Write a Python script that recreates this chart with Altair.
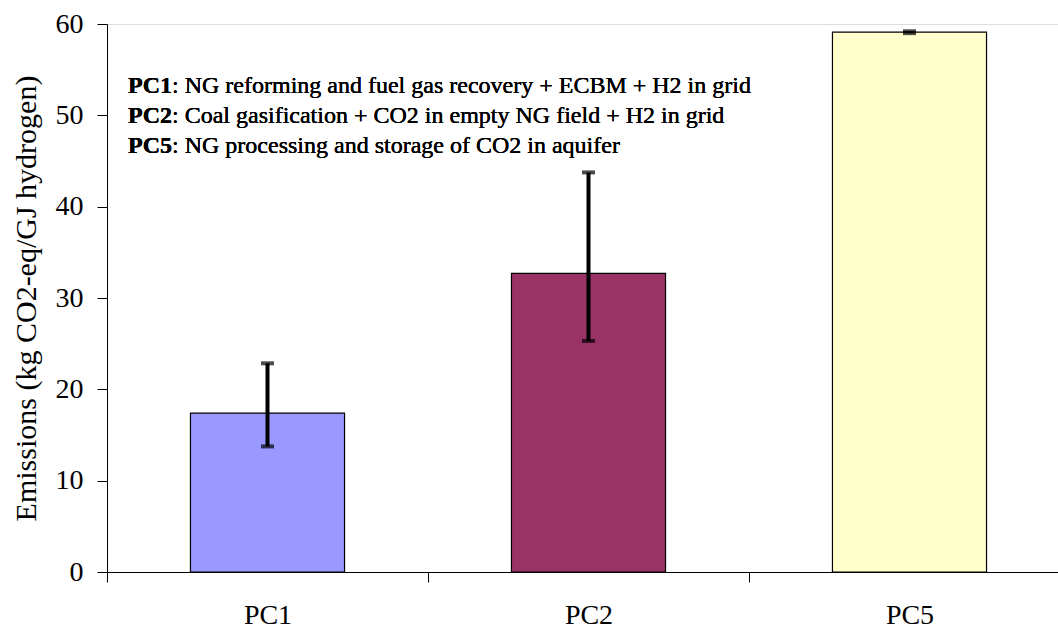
import altair as alt
import pandas as pd

categories = ["PC1", "PC2", "PC5"]
values = [17.4, 32.7, 59.1]
err_low = [13.75, 25.3, 59.0]
err_high = [22.85, 43.75, 59.2]
colors = ["#9999FF", "#993366", "#FFFFCC"]

note_bold = ["PC1", "PC2", "PC5"]
note_rest = [
    ": NG reforming and fuel gas recovery + ECBM + H2 in grid",
    ": Coal gasification + CO2 in empty NG field + H2 in grid",
    ": NG processing and storage of CO2 in aquifer",
]

df = pd.DataFrame({"cat": categories, "value": values, "lo": err_low, "hi": err_high, "color": colors})

FONT = "Liberation Serif"
FS = 28

x_enc = alt.X(
    "cat:N",
    sort=categories,
    scale=alt.Scale(range=[0, 963], paddingInner=0, paddingOuter=0),
    axis=alt.Axis(
        title=None, labelAngle=0, tickBand="extent", labelFont=FONT, labelFontSize=FS,
        labelColor="black", domainColor="black", tickColor="black", tickSize=10,
        labelPadding=19, grid=False,
    ),
)
y_scale = alt.Scale(domain=[0, 60], nice=False, zero=True)

bars = alt.Chart(df).mark_bar(
    width=alt.RelativeBandSize(0.48), stroke="black", strokeWidth=1.2
).encode(
    x=x_enc,
    y=alt.Y(
        "value:Q",
        scale=y_scale,
        axis=alt.Axis(
            title="Emissions (kg CO2-eq/GJ hydrogen)", values=[0, 10, 20, 30, 40, 50, 60],
            titleFont=FONT, titleFontSize=30, titleFontWeight="normal", titleColor="black",
            labelFont=FONT, labelFontSize=FS, labelColor="black", labelPadding=14,
            tickSize=10, tickColor="black", domainColor="black", grid=False, titlePadding=14,
        ),
    ),
    color=alt.Color("color:N", scale=None),
)

rules = alt.Chart(df).mark_rule(color="black", strokeWidth=4).encode(
    x=alt.X("cat:N", sort=categories), y=alt.Y("lo:Q", scale=y_scale), y2="hi:Q"
)
caps_lo = alt.Chart(df).mark_tick(color="black", size=13, thickness=4, orient="horizontal").encode(
    x=alt.X("cat:N", sort=categories), y=alt.Y("lo:Q", scale=y_scale)
)
caps_hi = alt.Chart(df).mark_tick(color="black", size=13, thickness=4, orient="horizontal").encode(
    x=alt.X("cat:N", sort=categories), y=alt.Y("hi:Q", scale=y_scale)
)

notes = []
for i, (b, r) in enumerate(zip(note_bold, note_rest)):
    yv = 69 + 30 * i
    notes.append(
        alt.Chart(df).mark_text(
            text=b, font=FONT, fontSize=24, fontWeight="bold", align="left", baseline="alphabetic", color="black"
        ).encode(x=alt.value(21), y=alt.value(yv))
    )
    notes.append(
        alt.Chart(df).mark_text(
            text=r, font=FONT, fontSize=24, align="left", baseline="alphabetic", color="black"
        ).encode(x=alt.value(21 + 44), y=alt.value(yv))
    )

chart = alt.layer(bars, rules, caps_lo, caps_hi, *notes).properties(
    width=951,
    height=548,
    autosize=alt.AutoSizeParams(type="none"),
    padding={"left": 107, "top": 24, "right": 0, "bottom": 56},
).configure_view(stroke=None).configure(background="white")

chart.save("out.html", embed_options={"renderer": "svg", "actions": False})
